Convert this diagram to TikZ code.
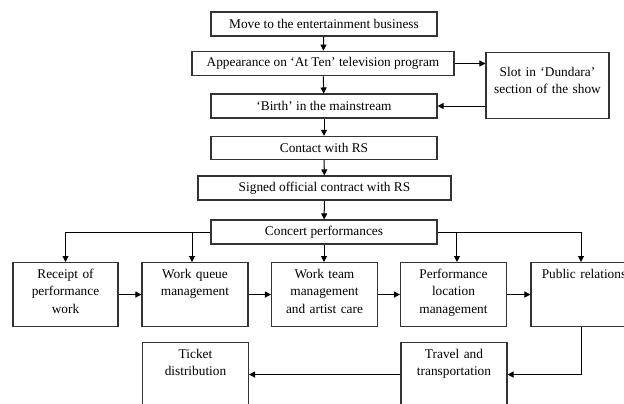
\documentclass[tikz,border=0pt]{standalone}
\usepackage{fontspec}
\setmainfont{Liberation Serif}
\usetikzlibrary{arrows.meta, positioning}
\colorlet{colLinea}{black}
\colorlet{colBorde}{black!80}
\tikzset{
  cajaBase/.style={
    draw=colBorde, line width=0.8pt,
    minimum width=169.5pt, minimum height=18pt,
    align=center, inner sep=0pt,
    font=\fontsize{10}{13}\selectfont, text=black, fill=white
  },
  cajaTarea/.style={cajaBase, anchor=north, text width=79.5pt,
    minimum width=0pt, minimum height=0pt, text height=12pt, text depth=36pt},
  cajaLateral/.style={cajaBase, anchor=north, text width=92.25pt,
    minimum width=0pt, minimum height=0pt, text height=18pt, text depth=31.5pt},
  flecha/.style={-{Triangle[length=4.5pt, width=4.5pt]}, line width=0.75pt, colLinea},
}
\begin{document}
\begin{tikzpicture}[x=0.75pt, y=-0.75pt]
    \useasboundingbox (0,0) rectangle (624,403);
    % Trayectoria
    \node[cajaBase] (mover) at (324,24) {Move to the entertainment business};
    \node[cajaBase, minimum width=196.5pt, minimum height=18.5pt] (aparicion) at (323,63.5) {Appearance on `At Ten' television program};
    \node[cajaBase] (nacimiento) at (324,106) {`Birth' in the mainstream};
    \node[cajaLateral] (dundara) at (547.5,52) {Slot in `Dundara'\\section of the show};
    \node[cajaBase, minimum height=17.5pt] (contacto) at (324,148) {Contact with RS};
    \node[cajaBase, minimum width=189.75pt] (contrato) at (324.5,188) {Signed official contract with RS};
    \node[cajaBase] (conciertos) at (324,232) {Concert performances};

    % Tareas
    \node[cajaTarea, text width=78.75pt] (recepcion) at (65.5,262) {Receipt of\\performance\\work};
    \node[cajaTarea] (cola) at (195,262) {Work queue\\management};
    \node[cajaTarea] (equipo) at (324.5,262) {Work team\\management\\and artist care};
    \node[cajaTarea] (lugar) at (453.5,262) {Performance\\location\\management};
    \node[cajaTarea] (relaciones) at (584,262) {Public relations};
    \node[cajaTarea] (viaje) at (454,342) {Travel and\\transportation};
    \node[cajaTarea] (boletos) at (195.5,342) {Ticket\\distribution};

    \draw[flecha] (mover)--(aparicion); \draw[flecha] (aparicion)--(nacimiento);
    \draw[flecha] (nacimiento)--(contacto); \draw[flecha] (contacto)--(contrato);
    \draw[flecha] (contrato)--(conciertos);
    \draw[flecha] (aparicion.east) -- (aparicion.east -| dundara.west);
    \draw[flecha] (dundara.west |- nacimiento.east) -- (nacimiento.east);

    \draw[flecha] (conciertos.west) -| (recepcion.north);
    \draw[flecha] (conciertos.west) -| ([xshift=-2.25pt]cola.north);
    \draw[flecha] (conciertos.south) -- (conciertos.south |- equipo.north);
    \draw[flecha] (conciertos.east) -| ([xshift=2.6pt]lugar.north);
    \draw[flecha] (conciertos.east) -| ([xshift=-2.25pt]relaciones.north);

    \draw[flecha] (recepcion)--(cola); \draw[flecha] (cola)--(equipo);
    \draw[flecha] (equipo)--(lugar); \draw[flecha] (lugar)--(relaciones);
    \draw[flecha] ([xshift=-2.25pt]relaciones.south) |- (viaje.east);
    \draw[flecha] (viaje.west) -- (boletos.east);
  \end{tikzpicture}
\end{document}
